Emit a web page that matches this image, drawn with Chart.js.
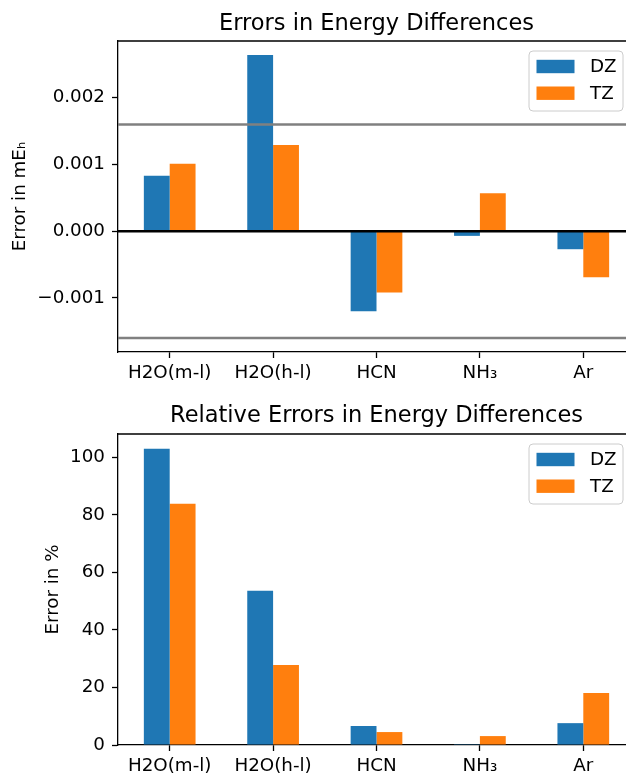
<!DOCTYPE html>
<html>
<head>
<meta charset="utf-8">
<script src="https://cdn.jsdelivr.net/npm/chart.js@4.4.1/dist/chart.umd.min.js"></script>
<style>
html, body { margin: 0; padding: 0; overflow: hidden; background: #fff; }
canvas { display: block; }
</style>
</head>
<body>
<canvas id="absChart" width="640" height="390"></canvas>
<canvas id="relChart" width="640" height="390"></canvas>
<script>
// categories and series
const categories = ["H2O(m-l)", "H2O(h-l)", "HCN", "NH\u2083", "Ar"];
const seriesNames = ["DZ", "TZ"];
const seriesColors = ["#1f77b4", "#ff7f0e"];

// errors in energy differences (mE_h)
const absDZ = [0.00083, 0.00264, -0.00120, -0.00007, -0.00027];
const absTZ = [0.00101, 0.00129, -0.00092, 0.00057, -0.00069];
const absTicks = [-0.001, 0, 0.001, 0.002];
const absRange = [-0.00181, 0.00285];
const refLines = [0.0016, -0.0016];

// relative errors (%)
const relDZ = [103.0, 53.6, 6.6, 0.3, 7.6];
const relTZ = [83.9, 27.8, 4.5, 3.1, 18.1];
const relTicks = [0, 20, 40, 60, 80, 100];
const relRange = [0, 108.15];

const FONT = '"DejaVu Sans", sans-serif';

// frame (top/right spines), horizontal reference lines and an in-axes legend
const framePlugin = {
    id: 'frame',
    afterDatasetsDraw(chart, args, opts) {
        const ctx = chart.ctx;
        const a = chart.chartArea;
        const y = chart.scales.y;
        (opts.lines || []).forEach(l => {
            const py = y.getPixelForValue(l.value);
            ctx.save();
            ctx.strokeStyle = l.color;
            ctx.lineWidth = l.width;
            ctx.beginPath();
            ctx.moveTo(a.left, py);
            ctx.lineTo(a.right, py);
            ctx.stroke();
            ctx.restore();
        });
    },
    afterDraw(chart) {
        const ctx = chart.ctx;
        const a = chart.chartArea;
        ctx.save();
        ctx.strokeStyle = '#000';
        ctx.lineWidth = 1.3;
        ctx.beginPath();
        ctx.moveTo(a.left, a.top);
        ctx.lineTo(a.right, a.top);
        ctx.lineTo(a.right, a.bottom);
        ctx.stroke();

        // legend box
        const w = 94, h = 60;
        const x0 = a.right - 12 - w, y0 = a.top + 10;
        ctx.beginPath();
        if (ctx.roundRect) ctx.roundRect(x0, y0, w, h, 4); else ctx.rect(x0, y0, w, h);
        ctx.fillStyle = 'rgba(255,255,255,0.8)';
        ctx.fill();
        ctx.strokeStyle = '#cccccc';
        ctx.lineWidth = 1;
        ctx.stroke();
        chart.data.datasets.forEach((ds, i) => {
            const cy = y0 + 15.5 + i * 26.7;
            ctx.fillStyle = ds.backgroundColor;
            ctx.fillRect(x0 + 7.5, cy - 6.7, 38, 13.4);
            ctx.fillStyle = '#000';
            ctx.font = '18.3px ' + FONT;
            ctx.textBaseline = 'middle';
            ctx.textAlign = 'left';
            ctx.fillText(ds.label, x0 + 61, cy + 1.2);
        });
        ctx.restore();
    }
};

function makeChart(id, title, yLabel, dz, tz, range, ticks, fmt, cfg) {
    const ctx = document.getElementById(id).getContext("2d");
    return new Chart(ctx, {
        type: 'bar',
        data: {
            labels: categories,
            datasets: [
                { label: seriesNames[0], data: dz, backgroundColor: seriesColors[0] },
                { label: seriesNames[1], data: tz, backgroundColor: seriesColors[1] }
            ]
        },
        options: {
            responsive: false,
            animation: false,
            layout: { padding: { left: 0, right: 5, top: 0, bottom: 0 } },
            datasets: { bar: { categoryPercentage: 0.5, barPercentage: 1.0 } },
            plugins: {
                legend: { display: false },
                tooltip: { enabled: false },
                title: {
                    display: true,
                    text: title,
                    fullSize: false,
                    color: '#000',
                    font: { family: FONT, size: 22.5, weight: 'normal' },
                    padding: cfg.titlePad
                },
                frame: { lines: cfg.lines }
            },
            scales: {
                x: {
                    grid: { offset: false, drawOnChartArea: false, drawTicks: true, tickLength: 6, tickWidth: 1.3, tickColor: '#000' },
                    border: { display: true, color: '#000', width: 1.3 },
                    ticks: { color: '#000', font: { family: FONT, size: 18.3 }, padding: 4, autoSkip: false, maxRotation: 0 },
                    afterFit(scale) { scale.height = cfg.xHeight; }
                },
                y: {
                    min: range[0],
                    max: range[1],
                    grid: { drawOnChartArea: false, drawTicks: true, tickLength: 6, tickWidth: 1.3, tickColor: '#000' },
                    border: { display: true, color: '#000', width: 1.3 },
                    ticks: { color: '#000', font: { family: FONT, size: 18.3 }, padding: 7, callback: fmt },
                    title: { display: true, text: yLabel, color: '#000', font: { family: FONT, size: 18.3 }, padding: { top: cfg.yTitlePad, bottom: 0 } },
                    afterBuildTicks(scale) { scale.ticks = ticks.map(v => ({ value: v })); },
                    afterFit(scale) { scale.width = 118; }
                }
            }
        },
        plugins: [framePlugin]
    });
}

makeChart("absChart", "Errors in Energy Differences", "Error in mE\u2095", absDZ, absTZ, absRange, absTicks,
    v => (v < 0 ? '\u2212' : '') + Math.abs(v).toFixed(3),
    {
        titlePad: { top: 10.5, bottom: 3.5 },
        xHeight: 38,
        yTitlePad: 9,
        lines: [
            { value: 0, color: '#000', width: 2.5 },
            { value: refLines[0], color: '#808080', width: 2.5 },
            { value: refLines[1], color: '#808080', width: 2.5 }
        ]
    });

makeChart("relChart", "Relative Errors in Energy Differences", "Error in %", relDZ, relTZ, relRange, relTicks,
    v => String(v),
    {
        titlePad: { top: 12.8, bottom: 4.2 },
        xHeight: 35,
        yTitlePad: 42,
        lines: []
    });
</script>
</body>
</html>
